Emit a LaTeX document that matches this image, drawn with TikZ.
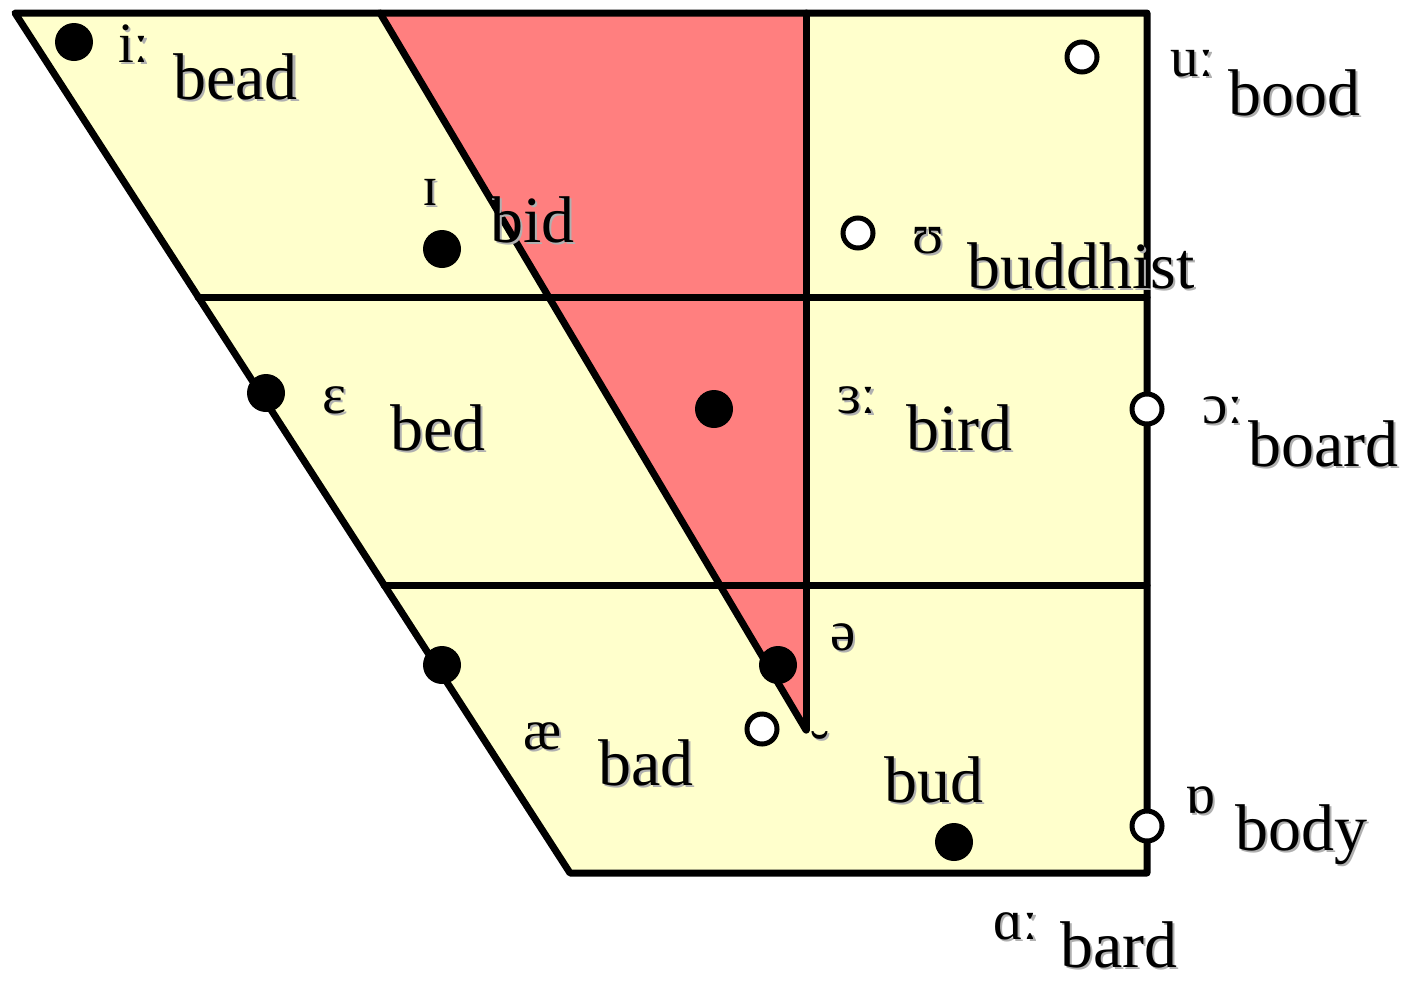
\documentclass[tikz,border=0pt]{standalone}
\usepackage{fontspec}
\setmainfont{Liberation Serif}
\definecolor{paleyellow}{HTML}{FFFFCC}
\definecolor{salmonred}{HTML}{FF7F7F}
\definecolor{shadowgrey}{HTML}{B0B0B0}
\newcommand\lbl[5]{%
  \node[#5,text=shadowgrey] (#1s) at (#2+2.5,#3+2.5) {#4};
  \node[#5] (#1) at (#2,#3) {#4};}
\begin{document}
\begin{tikzpicture}[x=1pt,y=-1pt,
  edge/.style={line width=7pt,line cap=round,line join=round},
  fulldot/.style={circle,fill=black,draw=none,minimum size=38pt,inner sep=0pt},
  opendot/.style={circle,fill=white,draw=black,line width=5pt,minimum size=30pt,inner sep=0pt},
  word/.style={anchor=base west,inner sep=0pt,outer sep=0pt,text depth=0pt,font=\fontsize{66}{70}\selectfont},
  ipa/.style={anchor=base west,inner sep=0pt,outer sep=0pt,text depth=0pt,font=\fontsize{57}{60}\selectfont}]
\useasboundingbox (0,0) rectangle (1410,983);
% corners
\coordinate (tl) at (15,13);
\coordinate (tr) at (1147,13);
\coordinate (br) at (1147,873);
\coordinate (bl) at (570,873);
\coordinate (tm) at (380,13);
\coordinate (tv) at (806,13);
\coordinate (tip) at (806,730);
\coordinate (h1l) at (198,297);
\coordinate (h1r) at (1147,297);
\coordinate (h2l) at (384,585);
\coordinate (h2r) at (1147,585);
% fills
\fill[paleyellow] (tl) -- (tr) -- (br) -- (bl) -- cycle;
\fill[salmonred] (tm) -- (tv) -- (tip) -- cycle;
% lines
\draw[edge] (tl) -- (tr) -- (br) -- (bl) -- cycle;
\draw[edge] (h1l) -- (h1r);
\draw[edge] (h2l) -- (h2r);
\draw[edge] (tm) -- (tip);
\draw[edge] (tv) -- (tip);
% dots
\node[fulldot] (d1) at (74,42) {};
\node[fulldot] (d2) at (442,249) {};
\node[fulldot] (d3) at (266,393) {};
\node[fulldot] (d4) at (714,409) {};
\node[fulldot] (d5) at (442,665) {};
\node[fulldot] (d6) at (778,665) {};
\node[fulldot] (d7) at (954,842) {};
\node[opendot] (o1) at (1082,57) {};
\node[opendot] (o2) at (858,233) {};
\node[opendot] (o3) at (1147,409) {};
\node[opendot] (o4) at (762,729) {};
\node[opendot] (o5) at (1147,826) {};
% labels
\lbl{ii}{118}{62}{iː}{ipa}
\lbl{bead}{173}{99}{bead}{word}
\lbl{ih}{422}{205}{ɪ}{ipa}
\lbl{bid}{490}{242}{bid}{word}
\lbl{uu}{1170}{76}{uː}{ipa}
\lbl{bood}{1228}{115}{bood}{word}
\lbl{uh}{912}{253}{ʊ}{ipa}
\lbl{buddhist}{967}{288}{buddhist}{word}
\lbl{eh}{322}{413}{ɛ}{ipa}
\lbl{bed}{390}{450}{bed}{word}
\lbl{er}{837}{413}{ɜː}{ipa}
\lbl{bird}{906}{450}{bird}{word}
\lbl{oo}{1202}{423}{ɔː}{ipa}
\lbl{board}{1248}{466}{board}{word}
\lbl{schwa}{830}{650}{ə}{ipa}
\lbl{wedge}{810}{770}{˘}{ipa}
\lbl{ae}{523}{749}{æ}{ipa}
\lbl{bad}{598}{785}{bad}{word}
\lbl{bud}{884}{802}{bud}{word}
\lbl{oh}{1185}{813}{ɒ}{ipa}
\lbl{body}{1235}{850}{body}{word}
\lbl{aa}{993}{939}{ɑː}{ipa}
\lbl{bard}{1060}{967}{bard}{word}
\end{tikzpicture}
\end{document}
